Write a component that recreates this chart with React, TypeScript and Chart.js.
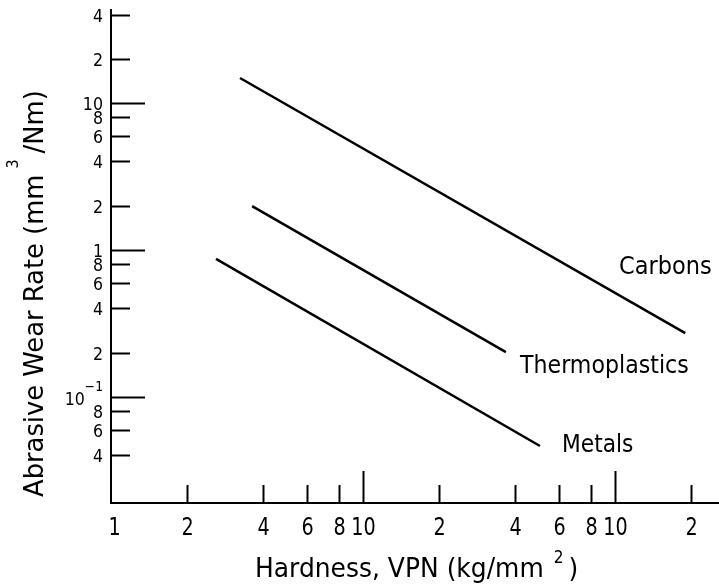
import React, { useEffect, useRef } from "react";
import { Chart, registerables } from "chart.js";

Chart.register(...registerables);

// ---- data ----
const seriesNames = ["Carbons", "Thermoplastics", "Metals"];
const carbonsX = [3.25, 190];
const carbonsY = [14.8, 0.272];
const thermoX = [3.63, 36.9];
const thermoY = [1.99, 0.202];
const metalsX = [2.61, 50.4];
const metalsY = [0.869, 0.0464];

const xTickValues = [1, 2, 4, 6, 8, 10, 20, 40, 60, 80, 100, 200];
const xTickLabels = ["1", "2", "4", "6", "8", "10", "2", "4", "6", "8", "10", "2"];
const yTickValues = [40, 20, 10, 8, 6, 4, 2, 1, 0.8, 0.6, 0.4, 0.2, 0.1, 0.08, 0.06, 0.04];
const yTickLabels = ["4", "2", "10", "8", "6", "4", "2", "1", "8", "6", "4", "2", "10^-1", "8", "6", "4"];

const xMin = 1;
const xMax = 258.6;
const yMin = 0.019;
const yMax = 43.6;

const FONT = '"DejaVu Sans", sans-serif';

function isDecade(v: number) {
  const l = Math.log10(v);
  return Math.abs(l - Math.round(l)) < 1e-9;
}

function sText(ctx: CanvasRenderingContext2D, text: string, x: number, y: number, sx: number) {
  ctx.save();
  ctx.translate(x, y);
  ctx.scale(sx, 1);
  ctx.fillText(text, 0, 0);
  ctx.restore();
  return ctx.measureText(text).width * sx;
}

const drawPlugin = {
  id: "handDrawnAxes",
  afterDraw(chart: any) {
    const ctx: CanvasRenderingContext2D = chart.ctx;
    const { left, right, top, bottom } = chart.chartArea;
    const xs = chart.scales.x;
    const ys = chart.scales.y;
    ctx.save();
    ctx.strokeStyle = "#000";
    ctx.fillStyle = "#000";
    ctx.lineWidth = 2;
    ctx.lineCap = "butt";

    // axis lines
    ctx.beginPath();
    ctx.moveTo(left, top);
    ctx.lineTo(left, bottom);
    ctx.lineTo(right, bottom);
    ctx.stroke();

    // y ticks (inward) and labels
    yTickValues.forEach((v, i) => {
      const y = Math.round(ys.getPixelForValue(v)) + 0.5;
      const len = isDecade(v) ? 34 : 19;
      ctx.beginPath();
      ctx.moveTo(left, y);
      ctx.lineTo(left + len, y);
      ctx.stroke();
      const lab = yTickLabels[i];
      ctx.textAlign = "right";
      ctx.textBaseline = "alphabetic";
      const rx = left - 8;
      if (lab.indexOf("^") >= 0) {
        const [base, exp] = lab.split("^");
        ctx.font = "14px " + FONT;
        const sup = exp.replace("-", "\u2212");
        const sw = sText(ctx, sup, rx, y - 7, 0.88);
        ctx.font = "18px " + FONT;
        sText(ctx, base, rx - sw, y + 7, 0.88);
      } else {
        ctx.font = "18px " + FONT;
        sText(ctx, lab, rx, y + 6.5, 0.88);
      }
    });

    // x ticks (inward) and labels
    xTickValues.forEach((v, i) => {
      const x = Math.round(xs.getPixelForValue(v)) + 0.5;
      if (v !== xMin) {
        const len = isDecade(v) ? 32 : 18;
        ctx.beginPath();
        ctx.moveTo(x, bottom);
        ctx.lineTo(x, bottom - len);
        ctx.stroke();
      }
      ctx.font = "24px " + FONT;
      ctx.textAlign = "center";
      ctx.textBaseline = "alphabetic";
      sText(ctx, xTickLabels[i], v === xMin ? x + 3 : x, bottom + 32, 0.8);
    });

    // x axis title
    ctx.textAlign = "left";
    ctx.textBaseline = "alphabetic";
    ctx.font = "27px " + FONT;
    const xt1 = "Hardness, VPN (kg/mm";
    let tx = 255;
    const tyb = bottom + 74;
    tx += sText(ctx, xt1, tx, tyb, 0.925) + 10;
    ctx.font = "17px " + FONT;
    tx += sText(ctx, "2", tx, tyb - 14, 0.9) + 5;
    ctx.font = "27px " + FONT;
    sText(ctx, ")", tx, tyb, 0.925);

    // y axis title (rotated)
    ctx.save();
    ctx.translate(43, 497);
    ctx.rotate(-Math.PI / 2);
    ctx.font = "27px " + FONT;
    const yt1 = "Abrasive Wear Rate (mm";
    let ry = 0;
    ry += sText(ctx, yt1, ry, 0, 0.955) + 6;
    ctx.font = "16px " + FONT;
    ry += sText(ctx, "3", ry, -25, 0.9) + 6;
    ctx.font = "27px " + FONT;
    sText(ctx, "/Nm)", ry, 0, 0.955);
    ctx.restore();

    // series labels
    ctx.font = "25px " + FONT;
    ctx.textAlign = "left";
    sText(ctx, seriesNames[0], 619, 274, 0.9);
    sText(ctx, seriesNames[1], 520, 373, 0.885);
    sText(ctx, seriesNames[2], 562, 452, 0.87);

    ctx.restore();
  },
};

function pts(xv: number[], yv: number[]) {
  return xv.map((x, i) => ({ x, y: yv[i] }));
}

export default function App() {
  const ref = useRef<HTMLCanvasElement | null>(null);
  useEffect(() => {
    if (!ref.current) return;
    const mk = (label: string, data: any) => ({
      label,
      data,
      borderColor: "#000",
      borderWidth: 2.5,
      pointRadius: 0,
      fill: false,
      tension: 0,
      clip: false as any,
    });
    const chart = new Chart(ref.current, {
      type: "line",
      data: {
        datasets: [
          mk(seriesNames[0], pts(carbonsX, carbonsY)),
          mk(seriesNames[1], pts(thermoX, thermoY)),
          mk(seriesNames[2], pts(metalsX, metalsY)),
        ],
      },
      options: {
        animation: false,
        responsive: false,
        devicePixelRatio: 1,
        layout: { padding: { left: 111, top: 9, right: 0, bottom: 84 } },
        plugins: { legend: { display: false }, tooltip: { enabled: false } },
        scales: {
          x: { type: "logarithmic", min: xMin, max: xMax, display: false },
          y: { type: "logarithmic", min: yMin, max: yMax, display: false },
        },
      },
      plugins: [drawPlugin],
    });
    return () => chart.destroy();
  }, []);
  return (
    <div style={{ position: "fixed", left: 0, top: 0, width: 719, height: 587, background: "#fff" }}>
      <canvas ref={ref} width={719} height={587} style={{ display: "block" }} />
    </div>
  );
}
